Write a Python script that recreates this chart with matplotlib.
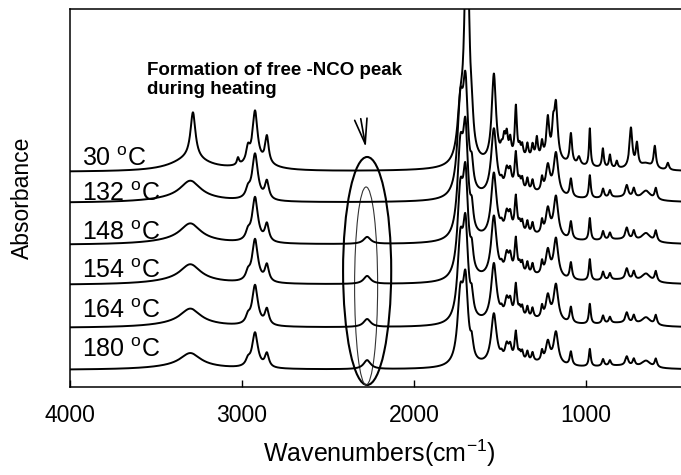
import numpy as np
import matplotlib
matplotlib.use("Agg")
import matplotlib.pyplot as plt
from matplotlib.patches import Ellipse

plt.rcParams['font.family'] = ['Liberation Sans', 'DejaVu Sans']
plt.rcParams['mathtext.fontset'] = 'custom'
plt.rcParams['mathtext.rm'] = 'Liberation Sans'
plt.rcParams['mathtext.it'] = 'Liberation Sans:italic'

# temperatures and vertical offsets of the stacked spectra (absorbance units)
temps = [30, 132, 148, 154, 164, 180]
offsets = [2.15, 1.84, 1.42, 1.02, 0.59, 0.17]
label_lift = [0.06, 0.02, 0.05, 0.07, 0.10, 0.13]

# 30 C spectrum: peak centre (cm-1), height, FWHM (cm-1)
rt_center = [3300, 3285, 3023, 2965, 2924, 2900, 2855, 1730, 1692, 1663, 1535,
             1490, 1475, 1460, 1440, 1407, 1385, 1370, 1340, 1310, 1285, 1255,
             1221, 1190, 1174, 1087, 1040, 977, 901, 860, 820, 738, 703, 650,
             599, 523, 1300]
rt_height = [0.13, 0.46, 0.07, 0.14, 0.52, 0.06, 0.27, 0.45, 2.60, 0.20, 0.88,
             0.08, 0.18, 0.22, 0.18, 0.52, 0.10, 0.12, 0.14, 0.13, 0.20, 0.15,
             0.40, 0.25, 0.55, 0.30, 0.08, 0.38, 0.19, 0.13, 0.07, 0.40, 0.23, 0.06,
             0.22, 0.07, 0.11]
rt_width = [260, 35, 15, 25, 35, 220, 25, 40, 30, 20, 30,
            16, 16, 16, 16, 15, 14, 14, 14, 14, 14, 14,
            20, 16, 24, 16, 20, 11, 13, 13, 13, 20, 16, 80,
            16, 16, 520]

# heated spectra (shape of 132 C trace)
ht_center = [3300, 3320, 2965, 2924, 2855, 1730, 1700, 1663, 1535, 1490, 1460,
             1440, 1407, 1385, 1370, 1340, 1310, 1255, 1221, 1174, 1087, 977,
             900, 860, 762, 721, 650, 593, 1350, 800]
ht_height = [0.17, 0.05, 0.08, 0.46, 0.18, 0.85, 1.00, 0.20, 0.66, 0.06, 0.20,
             0.17, 0.37, 0.08, 0.11, 0.12, 0.11, 0.13, 0.27, 0.42, 0.18, 0.23,
             0.09, 0.07, 0.12, 0.09, 0.09, 0.11, 0.09, 0.04]
ht_width = [140, 450, 30, 40, 28, 40, 35, 20, 38, 16, 25,
            20, 17, 14, 14, 14, 14, 14, 28, 32, 16, 13,
            15, 15, 20, 16, 60, 16, 420, 300]
ht_scale = [1.0, 0.97, 0.93, 0.87, 0.76]

# free -NCO band
nco_center = 2272
nco_width = 50
nco_height = [0.0, 0.0, 0.07, 0.08, 0.08, 0.09]

wn = np.linspace(400, 4000, 3601)


def spectrum(centers, heights, widths):
    y = np.zeros_like(wn)
    for c, h, w in zip(centers, heights, widths):
        g = w / 2.0
        y += h * g**2 / ((wn - c)**2 + g**2)
    return y


fig = plt.figure(figsize=(6.81, 4.75), dpi=100)
ax = fig.add_axes([0.1028, 0.1853, 0.909, 0.7958])

for i, t in enumerate(temps):
    if i == 0:
        y = spectrum(rt_center, rt_height, rt_width)
    else:
        y = ht_scale[i - 1] * spectrum(ht_center, ht_height, ht_width)
    y = y + spectrum([nco_center], [nco_height[i]], [nco_width])
    ax.plot(wn, y + offsets[i], color='black', lw=1.4)
    ax.text(3930, offsets[i] + label_lift[i], f'{t} $^{{\\mathrm{{o}}}}$C',
            fontsize=18, ha='left', va='baseline')

# ellipses around the -NCO band
y_lo = offsets[-1] - 0.15
y_out = offsets[0] + 0.15
y_in = offsets[1] + 0.16
outer = Ellipse((nco_center, (y_lo + y_out) / 2), 280, y_out - y_lo,
                fill=False, lw=1.5, ec='black')
inner = Ellipse((nco_center + 6, (y_lo + y_in) / 2), 134, y_in - y_lo,
                fill=False, lw=0.8, ec='#333333')
ax.add_patch(outer)
ax.add_patch(inner)

ax.annotate('', xy=(nco_center + 5, offsets[0] + 0.22),
            xytext=(nco_center + 40, offsets[0] + 0.56),
            arrowprops=dict(arrowstyle='->,head_length=1.8,head_width=0.45',
                            lw=1.2, color='black'))
ax.text(3552, 3.25, 'Formation of free -NCO peak\nduring heating',
        fontsize=13.5, fontweight='bold', ha='left', va='top', linespacing=1.15)

ax.set_xlim(4000, 400)
ax.set_ylim(0, 3.78)
ax.set_xticks([4000, 3000, 2000, 1000])
ax.set_yticks([])
ax.tick_params(axis='x', direction='in', length=5, width=1, labelsize=16.5, pad=12)
for s in ax.spines.values():
    s.set_linewidth(1.1)
ax.set_xlabel('Wavenumbers(cm$^{-1}$)', fontsize=18, labelpad=8)
ax.set_ylabel('Absorbance', fontsize=16.5, labelpad=26)

fig.savefig('out.png', dpi=100)
